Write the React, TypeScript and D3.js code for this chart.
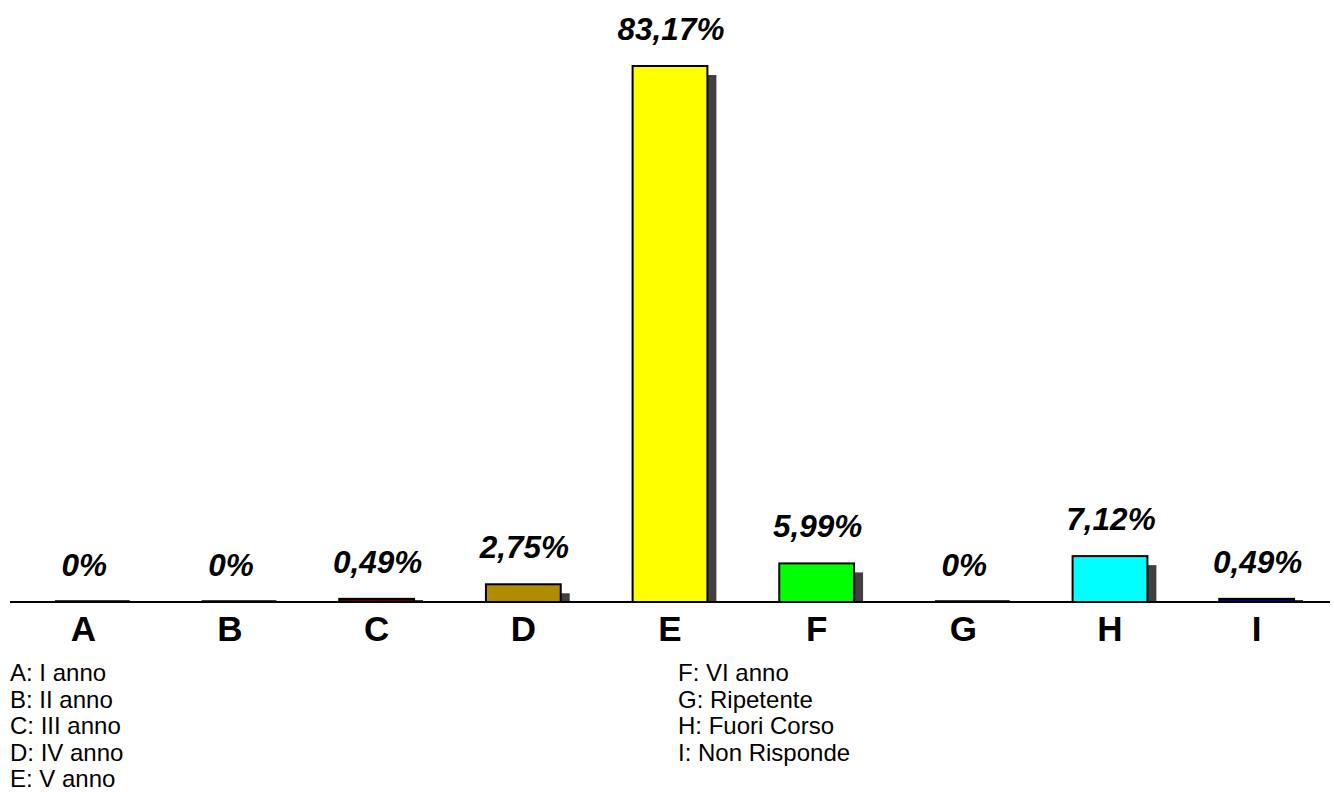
import React from "react";
import * as d3 from "d3";

const categories = ["A", "B", "C", "D", "E", "F", "G", "H", "I"];
const values = [0, 0, 0.49, 2.75, 83.17, 5.99, 0, 7.12, 0.49];
const valueLabels = ["0%", "0%", "0,49%", "2,75%", "83,17%", "5,99%", "0%", "7,12%", "0,49%"];
const colors = ["#9999FF", "#993366", "#600000", "#B08C00", "#FFFF00", "#00FF00", "#800080", "#00FFFF", "#000080"];
const legendLeft = ["A: I anno", "B: II anno", "C: III anno", "D: IV anno", "E: V anno"];
const legendRight = ["F: VI anno", "G: Ripetente", "H: Fuori Corso", "I: Non Risponde"];

const W = 1334;
const H = 792;
const FONT = "Arial, 'Liberation Sans', Helvetica, sans-serif";

export default function App() {
  const x = d3.scaleBand<string>().domain(categories).range([10, 1330]).paddingInner(0.49).paddingOuter(0.245);
  const y = d3.scaleLinear().domain([0, 90]).range([602, 22]);
  const base = y(0);
  const bw = x.bandwidth();
  const sh = 9;

  return (
    <svg width={W} height={H} style={{ position: "absolute", left: 0, top: 0, background: "#fff" }}>
      {categories.map((c, i) => {
        const top = y(values[i]);
        const sy = Math.min(top + sh, base - 2);
        return (
          <rect key={"s" + c} x={(x(c) as number) + sh} y={sy} width={bw} height={base - sy} fill="#404040" />
        );
      })}
      <line x1={10} x2={1330} y1={base} y2={base} stroke="#000" strokeWidth={2} />
      {categories.map((c, i) => {
        const top = y(values[i]);
        return (
          <rect
            key={"b" + c}
            x={x(c) as number}
            y={top}
            width={bw}
            height={Math.max(0, base - top)}
            fill={colors[i]}
            stroke="#000"
            strokeWidth={2}
          />
        );
      })}
      {categories.map((c, i) => (
        <text
          key={"v" + c}
          x={(x(c) as number) + bw / 2 + 1}
          y={y(values[i]) - 26}
          textAnchor="middle"
          fontFamily={FONT}
          fontWeight="bold"
          fontStyle="italic"
          fontSize={31.5}
          fill="#000"
        >
          {valueLabels[i]}
        </text>
      ))}
      {categories.map((c) => (
        <text
          key={"c" + c}
          x={(x(c) as number) + bw / 2}
          y={641}
          textAnchor="middle"
          fontFamily={FONT}
          fontWeight="bold"
          fontSize={35}
          fill="#000"
        >
          {c}
        </text>
      ))}
      {legendLeft.map((t, i) => (
        <text key={"ll" + i} x={10} y={681 + i * 26.5} fontFamily={FONT} fontSize={24} fill="#000">
          {t}
        </text>
      ))}
      {legendRight.map((t, i) => (
        <text key={"lr" + i} x={678} y={681 + i * 26.5} fontFamily={FONT} fontSize={24} fill="#000">
          {t}
        </text>
      ))}
    </svg>
  );
}
